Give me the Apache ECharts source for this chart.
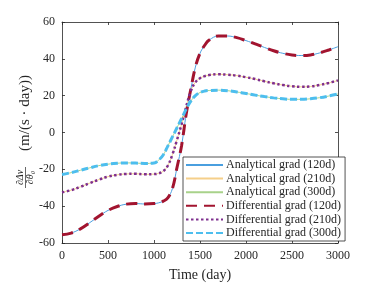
<!DOCTYPE html>
<html>
<head>
<meta charset="utf-8">
<script src="https://cdn.jsdelivr.net/npm/echarts@6/dist/echarts.min.js"></script>
<style>html,body{margin:0;padding:0;background:#fff}#c{width:374px;height:283px}</style>
</head>
<body>
<div id="c"></div>
<script>
var days = [0,100,200,300,400,500,600,700,800,900,1000,1050,1100,1150,1200,1250,1300,1350,1400,1450,1500,1550,1600,1700,1800,1900,2000,2100,2200,2300,2400,2500,2600,2700,2800,2900,3000];
var grad120 = [-55.5,-54.6,-52.3,-49,-45.5,-42.3,-40.2,-38.9,-38.6,-38.8,-38.6,-38.2,-37.3,-35.5,-30.5,-19,-7,10,23.5,35.5,43,47.3,50.2,52.4,52.4,51.5,49.9,48.1,46.2,44.4,43,42.1,41.8,42.1,43.2,44.8,46.6];
var grad210 = [-32.5,-31.3,-29.5,-27.5,-25.6,-24,-23,-22.5,-22.4,-22.7,-22.6,-22.2,-21,-18,-12,-4,4.5,14,22.5,27.3,29.5,30.6,31.2,31.6,31.4,30.9,30,29,27.8,26.7,25.8,25.1,24.8,25,25.8,26.9,28.3];
var grad300 = [-22.8,-21.8,-20.5,-19.2,-18,-17.2,-16.7,-16.5,-16.6,-16.8,-16.6,-15,-12.2,-7.4,-2.4,2.6,7.6,12.7,17,20,21.7,22.5,22.8,23,22.7,22,21.2,20.3,19.5,18.8,18.3,18,18,18.3,18.9,19.8,20.9];
var seriesNames = ['Analytical grad (120d)','Analytical grad (210d)','Analytical grad (300d)','Differential grad (120d)','Differential grad (210d)','Differential grad (300d)'];
var xTicks = [0,500,1000,1500,2000,2500,3000];
var yTicks = [-60,-40,-20,0,20,40,60];

function pts(v){ return days.map(function(d,i){ return [d, v[i]]; }); }

var font = 'Liberation Serif';
var axisCol = '#262626';
var chart = echarts.init(document.getElementById('c'));
function mkLine(name, data, color, width, type, z){
  return {name:name, type:'line', data:pts(data), smooth:0.4, symbol:'none', showSymbol:false,
    lineStyle:{color:color, width:width, type:type, cap:'butt'}, itemStyle:{color:color}, z:z, animation:false};
}
var tickStyle = {inside:true, length:3, lineStyle:{color:axisCol, width:0.8}};
var lineSt = {show:true, onZero:false, lineStyle:{color:axisCol, width:0.8}};
chart.setOption({
  animation:false,
  grid:{left:62, right:36, top:22, bottom:40, containLabel:false, outerBoundsMode:'none'},
  xAxis:[{type:'value', min:xTicks[0], max:xTicks[xTicks.length-1], interval:500,
    name:'Time (day)', nameLocation:'middle', nameGap:25,
    nameTextStyle:{fontFamily:font, fontSize:14, color:axisCol},
    axisLine:lineSt, axisTick:tickStyle,
    axisLabel:{fontFamily:font, fontSize:12, color:axisCol, margin:7, formatter:function(v){return String(v);}},
    splitLine:{show:false}},
   {type:'value', position:'top', min:0, max:3000, interval:500,
    axisLine:lineSt, axisTick:tickStyle,
    axisLabel:{show:false}, splitLine:{show:false}}],
  yAxis:[{type:'value', min:yTicks[0], max:yTicks[yTicks.length-1], interval:20,
    axisLine:lineSt, axisTick:Object.assign({show:true}, tickStyle),
    axisLabel:{fontFamily:font, fontSize:12, color:axisCol, margin:7},
    splitLine:{show:false}},
   {type:'value', position:'right', min:-60, max:60, interval:20,
    axisLine:lineSt, axisTick:Object.assign({show:true}, tickStyle),
    axisLabel:{show:false}, splitLine:{show:false}}],
  legend:{
    left:183, top:157, orient:'vertical', itemWidth:37, itemHeight:12, itemGap:1.6,
    padding:[2,4,2,2],
    backgroundColor:'#fff', borderColor:axisCol, borderWidth:0.8,
    itemStyle:{opacity:0},
    textStyle:{fontFamily:font, fontSize:12, color:axisCol, padding:[0,0,0,-2]},
    data:seriesNames
  },
  series:[
    mkLine(seriesNames[0], grad120, '#4A9FDF', 1, 'solid', 2),
    mkLine(seriesNames[1], grad210, '#F5CF8A', 1, 'solid', 2),
    mkLine(seriesNames[2], grad300, '#A8D28A', 1, 'solid', 2),
    mkLine(seriesNames[3], grad120, '#A2142F', 3, [11,7], 3),
    mkLine(seriesNames[4], grad210, '#7E2F8E', 2.5, [2.5,2.5], 3),
    mkLine(seriesNames[5], grad300, '#4DBEEE', 3, [7,3], 3)
  ],
  graphic:[
    {type:'text', x:25, y:113, rotation:Math.PI/2,
      style:{text:'(m/(s \u00b7 day))', font:'15px "Liberation Serif"', fill:axisCol, textAlign:'center', textVerticalAlign:'middle'}},
    {type:'text', x:20.5, y:177.5, rotation:Math.PI/2,
      style:{text:'\u2202\u0394v', font:'italic 10px "Liberation Serif"', fill:axisCol, textAlign:'center', textVerticalAlign:'middle'}},
    {type:'line', shape:{x1:25.5, y1:167, x2:25.5, y2:188}, style:{stroke:axisCol, lineWidth:0.7}},
    {type:'text', x:30.5, y:177.5, rotation:Math.PI/2,
      style:{text:'\u2202\u03b8\u2080', font:'italic 10px "Liberation Serif"', fill:axisCol, textAlign:'center', textVerticalAlign:'middle'}}
  ]
});
</script>
</body>
</html>
